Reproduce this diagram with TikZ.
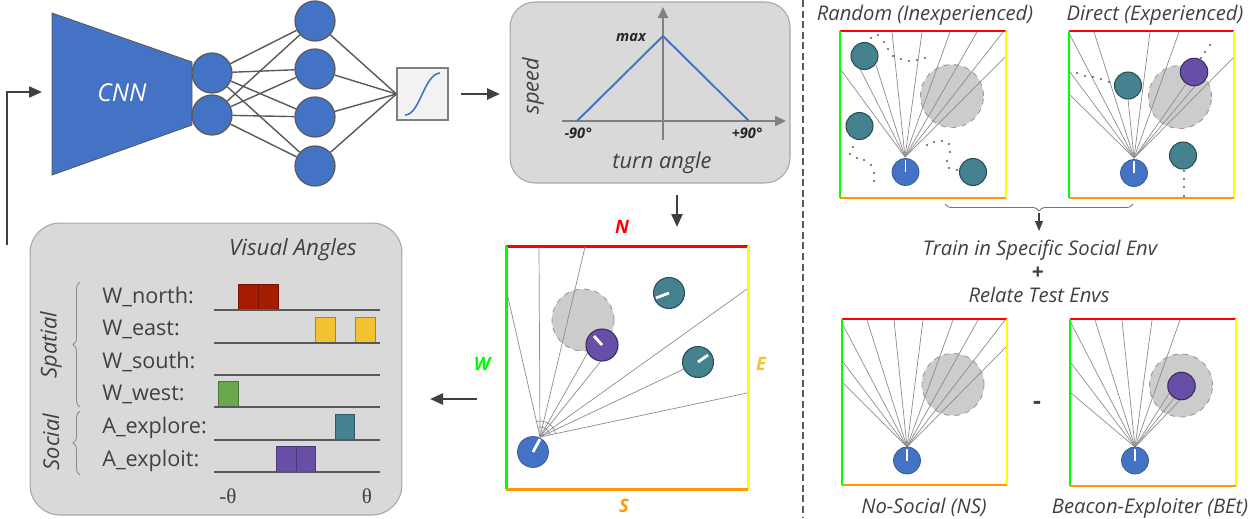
\documentclass[tikz,border=0pt]{standalone}
\usepackage{fontspec}
\setmainfont{Open Sans}
\newfontfamily\thfont{Liberation Serif}
\usetikzlibrary{arrows.meta,decorations.pathreplacing}
\definecolor{nnblue}{HTML}{4472C4}
\definecolor{txt}{HTML}{404040}
\definecolor{lin}{HTML}{595959}
\definecolor{tealc}{HTML}{45818E}
\definecolor{purc}{HTML}{674EA7}
\definecolor{panelf}{HTML}{D9D9D9}
\definecolor{paneld}{HTML}{A6A6A6}
\definecolor{cN}{HTML}{FF0000}
\definecolor{cW}{HTML}{00FF00}
\definecolor{cE}{HTML}{FFFF00}
\definecolor{cS}{HTML}{FF9900}
\definecolor{labE}{HTML}{F1C232}
\definecolor{barR}{HTML}{A61C00}
\definecolor{barY}{HTML}{F1C232}
\definecolor{barG}{HTML}{6AA84F}
\definecolor{rayc}{HTML}{8C8C8C}
\definecolor{goalc}{HTML}{CCCCCC}
\definecolor{goald}{HTML}{999999}
\newcommand\myfs[1]{\fontsize{#1}{#1}\selectfont}
\newcommand\arenawalls[5]{%
  \draw[cN, line width=#5] (#1,#2) -- (#3,#2);
  \draw[cE, line width=#5] (#3,#2) -- (#3,#4);
  \draw[cS, line width=#5] (#1,#4) -- (#3,#4);
  \draw[cW, line width=#5] (#1,#2) -- (#1,#4);
}
\begin{document}
\begin{tikzpicture}[x=0.02cm,y=-0.02cm,
  arr/.style={draw=txt, line width=1.4pt, -{Triangle[length=0.26cm,width=0.22cm]}},
  thinarr/.style={draw=txt, line width=0.6pt, -{Triangle[length=0.2cm,width=0.16cm]}},
  axis/.style={draw=black!50, line width=1.1pt, -{Triangle[length=0.22cm,width=0.2cm]}},
  neuron/.style={circle, fill=nnblue, draw=lin, line width=0.7pt, minimum size=0.8cm, inner sep=0pt},
  conn/.style={draw=lin, line width=0.8pt},
  panelbox/.style={draw=paneld, fill=panelf, line width=0.6pt, inner sep=0pt},
  agent/.style={circle, fill=nnblue, draw=nnblue!75!black, line width=0.4pt, inner sep=0pt},
  peer/.style={circle, fill=tealc, draw=tealc!60!black, line width=0.6pt, inner sep=0pt},
  beacon/.style={circle, fill=purc, draw=purc!55!black, line width=0.6pt, inner sep=0pt},
  goal/.style={circle, fill=goalc, draw=goald, dashed, line width=0.5pt, inner sep=0pt},
  rayl/.style={draw=rayc, line width=0.4pt},
  head/.style={draw=white, line width=1.6pt},
  heads/.style={draw=white, line width=1.1pt},
  lab/.style={text=txt, font=\myfs{12.3}, inner sep=0pt},
  ttl/.style={text=txt, font=\myfs{11.5}\itshape, inner sep=0pt},
  big/.style={text=txt, font=\myfs{12.4}\itshape, inner sep=0pt},
  dir/.style={font=\myfs{10.5}\bfseries\itshape, inner sep=0pt},
  base/.style={draw=lin, line width=0.6pt},
  bar/.style={line width=0.5pt},
  brc/.style={draw=black!45, line width=0.5pt, decorate, decoration={brace, amplitude=0.14cm}},
  dotp/.style={fill=lin}
]
\useasboundingbox (0,0) rectangle (1250,518);

% ---------------- Network ----------------
\coordinate (fb0) at (7,245);
\coordinate (fb1) at (42,92);
\draw[arr, line width=1.2pt] (fb0) |- (fb1);
\filldraw[fill=nnblue, draw=lin, line width=0.5pt] (52,13) -- (192,62) -- (192,125) -- (52,175) -- cycle;
\node[text=white, font=\myfs{14}\itshape, inner sep=0pt] (cnn) at (122,93) {CNN};
\node[neuron] (h1) at (212,73) {};
\node[neuron] (h2) at (212,115) {};
\node[neuron] (o1) at (315,21) {};
\node[neuron] (o2) at (315,69) {};
\node[neuron] (o3) at (315,117) {};
\node[neuron] (o4) at (315,166) {};
\node[draw=black!50, fill=black!5, line width=0.7pt, minimum width=1.02cm, minimum height=1.04cm, inner sep=0pt] (sig) at (422.5,94) {};
\foreach \h in {h1,h2}{\foreach \o in {o1,o2,o3,o4}{\draw[conn] (\h) -- (\o);}}
\foreach \o in {o1,o2,o3,o4}{\draw[conn] (\o) -- (sig.west);}
\draw[nnblue, line width=0.9pt] (405,115) .. controls (420,115) and (424,74) .. (440,73);
\draw[arr] ([xshift=0.24cm]sig.east) -- ([xshift=-0.2cm]sig.east -| 510,0);

% ---------------- Speed plot ----------------
\node[panelbox, rounded corners=0.5cm, minimum width=5.6cm, minimum height=3.62cm] (spd) at (650,92.5) {};
\draw[axis] (562,121) -- (786,121);
\draw[axis] (663,140) -- (663,7);
\draw[nnblue, line width=1.1pt] (577,121) -- (663,36) -- (749,121);
\node[anchor=base, font=\myfs{8.3}\bfseries\itshape, text=black!85, inner sep=0pt] (mx) at (631,41) {max};
\node[anchor=base, font=\myfs{8.3}\bfseries\itshape, text=black!85, inner sep=0pt] (m90) at (578,138) {-90°};
\node[anchor=base, font=\myfs{8.3}\bfseries\itshape, text=black!85, inner sep=0pt] (p90) at (747,138) {+90°};
\node[big, anchor=base] (ta) at (662,168) {turn angle};
\node[big, rotate=90] (sp) at (533,86) {speed};
\coordinate (d1) at (677,195);
\coordinate (d2) at (677,227);
\draw[arr] (d1) -- (d2);

% ---------------- Center arena ----------------
\arenawalls{506}{246}{748}{489}{1.7pt}
\node[dir, text=cN, anchor=base] (nN) at (622,233) {N};
\node[dir, text=cS, anchor=base] (nS) at (624,512) {S};
\node[dir, text=cW, anchor=base] (nW) at (482,370) {W};
\node[dir, text=labE, anchor=base] (nE) at (761,370) {E};
\node[goal, minimum size=1.24cm] (g0) at (583,320) {};
\coordinate (O0) at (540,437);
\foreach \x/\y in {507/293, 539/247, 585/247, 588/352, 601/361, 747/289, 684/369, 747/393}{\draw[rayl] (O0) -- (\x,\y);}
\draw[rayl] (O0) ++(-11.6:16) arc[start angle=11.6, end angle=102.6, radius=0.32cm];
\draw[rayl] (O0) ++(-11.6:10) arc[start angle=11.6, end angle=102.6, radius=0.2cm];
\node[beacon, minimum size=0.64cm] (b0) at (602,345) {};
\node[peer, minimum size=0.62cm] (t01) at (669,293) {};
\node[peer, minimum size=0.62cm] (t02) at (698,362) {};
\node[agent, minimum size=0.62cm] (a0) at (533,452) {};
\draw[head] (a0.center) -- (540,439);
\draw[head] (b0.center) -- (594,336);
\draw[head] (t01.center) -- (656,298);
\draw[head] (t02.center) -- (708,355);
\coordinate (l1) at (477,399);
\coordinate (l2) at (430,399);
\draw[arr] (l1) -- (l2);

% ---------------- Visual angles ----------------
\node[panelbox, rounded corners=0.6cm, minimum width=7.44cm, minimum height=5.84cm] (va) at (216,369) {};
\node[big, font=\myfs{12.7}\itshape, anchor=base] (vat) at (293,255) {Visual Angles};
\node[lab, anchor=base west] (l1n) at (102,303) {W\_north:};
\node[lab, anchor=base west] (l2n) at (102,335.5) {W\_east:};
\node[lab, anchor=base west] (l3n) at (102,368) {W\_south:};
\node[lab, anchor=base west] (l4n) at (102,400) {W\_west:};
\node[lab, anchor=base west] (l5n) at (102,433) {A\_explore:};
\node[lab, anchor=base west] (l6n) at (102,466) {A\_exploit:};
\filldraw[bar, fill=barR, draw=barR!70!black] (238,284) rectangle (258,310) (258,284) rectangle (278,310);
\filldraw[bar, fill=barY, draw=barY!70!black] (315,317) rectangle (335,343) (355,317) rectangle (375,343);
\filldraw[bar, fill=barG, draw=barG!70!black] (218,381) rectangle (238,407);
\filldraw[bar, fill=tealc, draw=tealc!70!black] (335,414) rectangle (354,440);
\filldraw[bar, fill=purc, draw=purc!70!black] (276,446) rectangle (296,472) (296,446) rectangle (315,472);
\foreach \y in {310,343,375,407,440,472}{\draw[base] (214,\y) -- (380,\y);}
\node[text=txt, font=\myfs{12}\thfont, anchor=base] (mth) at (228,503) {-θ};
\node[text=txt, font=\myfs{12}\thfont, anchor=base] (pth) at (367,503) {θ};
\draw[brc] (80,407) -- (80,282);
\draw[brc] (80,475) -- (80,411);
\node[big, rotate=90] (spt) at (51,345) {Spatial};
\node[big, rotate=90] (soc) at (51,442) {Social};

% ---------------- Divider ----------------
\draw[lin, line width=0.6pt, dash pattern=on 4pt off 2pt] (803,0) -- (803,518);

% ---------------- Right arenas ----------------
\node[ttl, anchor=base] (tR) at (925,20) {Random (Inexperienced)};
\node[ttl, anchor=base] (tD) at (1155,20) {Direct (Experienced)};

% Arena 1
\arenawalls{840}{31}{1006}{198}{1.1pt}
\node[goal, minimum size=1.26cm] (g1) at (952,96) {};
\coordinate (O1) at (905,157);
\foreach \x/\y in {841/70, 860/69, 876/65, 892/32, 922/32, 950/32, 977/32, 1003/32, 1005/57}{\draw[rayl] (O1) -- (\x,\y);}
\node[peer, minimum size=0.54cm] (t11) at (864.5,56) {};
\node[peer, minimum size=0.54cm] (t12) at (859.5,126) {};
\node[peer, minimum size=0.54cm] (t13) at (973,172) {};
\node[agent, minimum size=0.54cm] (a1) at (905.5,172) {};
\draw[heads] (a1.center) -- (905.5,160);
\foreach \x/\y in {871/38,878/35,884/42,888/49,893/56,901/59,909/61,917/60,925/58,
                   853/147,850/154,857/158,864/160,871/165,874/173,874/181,
                   927/145,934/142,942/141,949/144,950/152,947/161,949/168,957/170}{\fill[dotp] (\x,\y) circle[radius=0.022cm];}

% Arena 2
\arenawalls{1069}{31}{1234}{198}{1.1pt}
\node[goal, minimum size=1.26cm] (g2) at (1180,97) {};
\coordinate (O2) at (1134,158);
\foreach \x/\y in {1070/35, 1070/72, 1070/95, 1094/32, 1128/99, 1150/32, 1179/32, 1186/84, 1195/86, 1233/58}{\draw[rayl] (O2) -- (\x,\y);}
\node[beacon, minimum size=0.55cm] (b2) at (1194,72) {};
\node[peer, minimum size=0.54cm] (t21) at (1128,85.5) {};
\node[peer, minimum size=0.54cm] (t22) at (1183,155.5) {};
\node[agent, minimum size=0.54cm] (a2) at (1134,173) {};
\draw[heads] (a2.center) -- (1134,161);
\foreach \x/\y in {1077/73,1085/76,1093/77,1101/79,1109/82,
                   1210/45,1205/52,1201/58,
                   1184/171,1184/179,1184/187,1184/196}{\fill[dotp] (\x,\y) circle[radius=0.022cm];}

% Brace and text
\draw[brc, draw=black!55] (1133,204) -- (945,204);
\coordinate (br1) at (1039,213);
\coordinate (br2) at (1039,231);
\draw[thinarr] (br1) -- (br2);
\node[ttl, anchor=base] (tr1) at (1040,255) {Train in Specific Social Env};
\node[text=txt, font=\myfs{12}\bfseries, inner sep=0pt] (tr2) at (1038,273) {+};
\node[ttl, anchor=base] (tr3) at (1039,302) {Relate Test Envs};

% Arena 3
\arenawalls{842}{319}{1007}{485}{1.1pt}
\node[goal, minimum size=1.24cm] (g3) at (953,384.5) {};
\coordinate (O3) at (907,447);
\foreach \x/\y in {843/325, 843/362, 843/383, 867/320, 894/320, 923/320, 953/320, 978/320, 1005/320, 1006/347}{\draw[rayl] (O3) -- (\x,\y);}
\node[agent, minimum size=0.54cm] (a3) at (907,460.5) {};
\draw[heads] (a3.center) -- (907,448.5);

% Arena 4
\arenawalls{1070}{319}{1236}{486}{1.1pt}
\node[goal, minimum size=1.26cm] (g4) at (1181,385.5) {};
\coordinate (O4) at (1135,447);
\foreach \x/\y in {1071/323, 1071/363, 1071/393, 1095/320, 1122/320, 1152/320, 1180/320, 1170/392, 1175/397, 1181/399}{\draw[rayl] (O4) -- (\x,\y);}
\node[beacon, minimum size=0.55cm] (b4) at (1181.5,386) {};
\node[agent, minimum size=0.54cm] (a4) at (1135,460.5) {};
\draw[heads] (a4.center) -- (1135,448.5);
\node[text=txt, font=\myfs{14}\bfseries, inner sep=0pt] (minus) at (1037,405) {-};

\node[ttl, anchor=base] (tNS) at (924,513) {No-Social (NS)};
\node[ttl, anchor=base] (tBE) at (1150,513) {Beacon-Exploiter (BEt)};
\end{tikzpicture}
\end{document}
